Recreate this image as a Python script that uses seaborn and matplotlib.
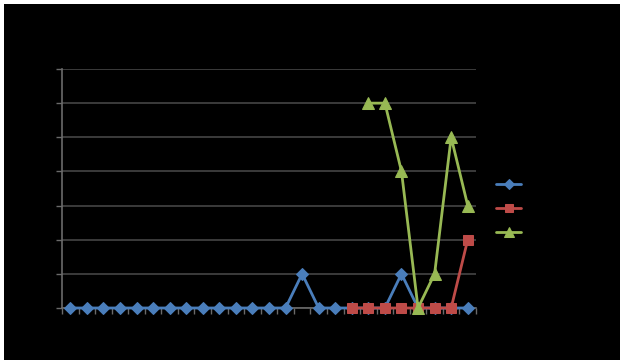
import numpy as np
import pandas as pd
import matplotlib
matplotlib.use("Agg")
import matplotlib.pyplot as plt
from matplotlib.patches import Rectangle
import seaborn as sns

sns.set_style("dark")
plt.rcParams['font.family'] = ['DejaVu Sans']

# --- data ---
series_names = ["Series1", "Series2", "Series3"]
blue_x = list(range(0, 25))
blue_y = [0, 0, 0, 0, 0, 0, 0, 0, 0, 0, 0, 0, 0, 0, 1, 0, 0, 0, 0, 0, 1, 0, 0, 0, 0]
red_x = list(range(17, 25))
red_y = [0, 0, 0, 0, 0, 0, 0, 2]
green_x = list(range(18, 25))
green_y = [6, 6, 4, 0, 1, 5, 3]
y_ticks = list(range(0, 8))

colors = ["#4A7EBB", "#BE4B48", "#98B954"]
markers = ["D", "s", "^"]
msizes = [6.5, 7.5, 8.5]

fig = plt.figure(figsize=(6.2, 3.62), dpi=100, facecolor="white")
# black chart area inside a thin white border
fig.add_artist(Rectangle((4 / 620, 2 / 362), 616 / 620, 356 / 362,
                         transform=fig.transFigure, facecolor="black",
                         edgecolor="none", zorder=-10))
ax = fig.add_axes([62 / 620, 1 - 308 / 362, 414 / 620, 239 / 362])
ax.set_facecolor("black")

data = [(blue_x, blue_y), (red_x, red_y), (green_x, green_y)]
for i, (xs, ys) in enumerate(data):
    df = pd.DataFrame({"x": xs, "y": ys})
    sns.lineplot(data=df, x="x", y="y", ax=ax, color=colors[i], marker=markers[i],
                 markersize=msizes[i], markeredgecolor=colors[i], linewidth=2,
                 label=series_names[i], zorder=3 + i, clip_on=False)

ax.set_xlim(-0.5, 24.5)
ax.set_ylim(0, 7)
ax.set_yticks(y_ticks)
ax.set_xticks(np.arange(-0.5, 25, 1))
ax.set_xticklabels([])
ax.set_yticklabels([])
ax.set_xlabel("")
ax.set_ylabel("")
ax.grid(axis="y", color="#454545", linewidth=1.2)
ax.grid(axis="x", visible=False)
for side in ["top", "right"]:
    ax.spines[side].set_visible(False)
for side in ["left", "bottom"]:
    ax.spines[side].set_visible(True)
    ax.spines[side].set_color("#6a6a6a")
    ax.spines[side].set_linewidth(1.2)
ax.tick_params(axis="both", colors="#6a6a6a", length=4, width=1, direction="out",
               bottom=True, left=True)

# legend sits right of the plot; its text is black like the background
leg = ax.legend(loc="center left", bbox_to_anchor=(485 / 620, 1 - 209 / 362),
                bbox_transform=fig.transFigure, frameon=False,
                handlelength=2.0, labelspacing=0.9, fontsize=9, markerscale=0.8)
for t in leg.get_texts():
    t.set_color("black")

fig.savefig("out.png", dpi=100, facecolor=fig.get_facecolor())
